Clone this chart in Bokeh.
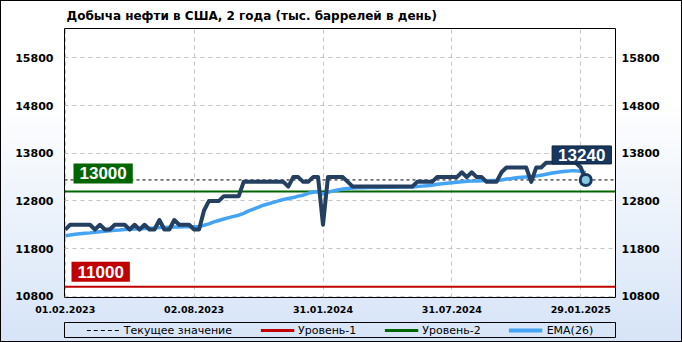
import pandas as pd
from bokeh.plotting import figure
from bokeh.layouts import column
from bokeh.models import (Range1d, LinearAxis, FixedTicker, DatetimeTickFormatter,
                          Span, Label, Legend, LegendItem)
from bokeh.embed import file_html
from bokeh.resources import INLINE

# ---------------- data ----------------
TITLE = "Добыча нефти  в США, 2 года (тыс. баррелей в день)"
start_date = "2023-02-01"

production = [
    12200, 12300, 12300, 12300, 12300, 12300, 12200, 12300, 12200, 12200,
    12300, 12300, 12300, 12200, 12300, 12200, 12300, 12200, 12200, 12400,
    12200, 12200, 12400, 12300, 12300, 12300, 12200, 12200, 12600, 12800,
    12800, 12800, 12900, 12900, 12900, 12900, 13200, 13200, 13200, 13200,
    13200, 13200, 13200, 13200, 13200, 13100, 13300, 13300, 13200, 13200,
    13300, 13300, 12300, 13300, 13300, 13300, 13300, 13200, 13100, 13100,
    13100, 13100, 13100, 13100, 13100, 13100, 13100, 13100, 13100, 13100,
    13100, 13200, 13200, 13200, 13200, 13300, 13300, 13300, 13300, 13300,
    13400, 13300, 13400, 13300, 13300, 13200, 13200, 13200, 13400, 13500,
    13500, 13500, 13500, 13500, 13200, 13500, 13500, 13600, 13600, 13600,
    13600, 13600, 13600, 13600, 13500, 13240,
]

ema26 = [
    12070, 12085, 12100, 12110, 12120, 12130, 12145, 12155, 12165, 12175,
    12185, 12190, 12200, 12205, 12210, 12215, 12220, 12225, 12230, 12240,
    12245, 12250, 12255, 12255, 12260, 12260, 12260, 12265, 12290, 12320,
    12360, 12390, 12420, 12450, 12475, 12500, 12540, 12590, 12630, 12670,
    12710, 12740, 12770, 12800, 12830, 12850, 12870, 12900, 12920, 12960,
    12980, 12990, 12940, 12980, 13010, 13030, 13050, 13060, 13070, 13075,
    13075, 13080, 13080, 13080, 13085, 13085, 13085, 13090, 13090, 13090,
    13090, 13100, 13110, 13120, 13130, 13150, 13160, 13170, 13180, 13190,
    13200, 13210, 13215, 13220, 13225, 13225, 13230, 13230, 13240, 13260,
    13270, 13285, 13295, 13300, 13300, 13320, 13340, 13360, 13380, 13395,
    13410, 13420, 13430, 13430, 13420, 13390,
]

current_value = 13240
level_1 = 11000
level_2 = 13000
y_ticks = [10800, 11800, 12800, 13800, 14800, 15800]
x_tick_dates = ["2023-02-01", "2023-08-02", "2024-01-31", "2024-07-31", "2025-01-29"]
legend_labels = ["Текущее значение", "Уровень-1", "Уровень-2", "EMA(26)"]

# ---------------- styles ----------------
C_MAIN = "#243f60"
C_EMA = "#45a3f4"
C_RED = "#c00000"
C_GREEN = "#006400"
C_NAVY = "#17375e"

dates = pd.date_range(start_date, periods=len(production), freq="7D")
x_ticks_ms = [pd.Timestamp(d).value // 10**6 for d in x_tick_dates]

x_start = (dates[0] - pd.Timedelta(days=1)).to_pydatetime()
x_end = (dates[0] + pd.Timedelta(days=777)).to_pydatetime()

# ---------------- main chart ----------------
p = figure(width=682, height=322, x_axis_type="datetime",
           x_range=Range1d(x_start, x_end), y_range=Range1d(10775, 16415),
           output_backend="svg", toolbar_location=None,
           min_border_left=64, min_border_right=67, min_border_top=28, min_border_bottom=25,
           border_fill_color=None, background_fill_color="white",
           outline_line_color="black", outline_line_width=1)

p.title.text = TITLE
p.title.text_font = "DejaVu Sans"
p.title.text_font_size = "12px"
p.title.text_font_style = "bold"
p.title.text_color = "black"
p.title.align = "left"
p.title.offset = 2
p.title.standoff = 11

fmt = "%d.%m.%Y"
p.xaxis.ticker = FixedTicker(ticks=x_ticks_ms)
p.xaxis.formatter = DatetimeTickFormatter(milliseconds=fmt, seconds=fmt, minsec=fmt, minutes=fmt,
                                          hourmin=fmt, hours=fmt, days=fmt, months=fmt, years=fmt)
p.yaxis.ticker = FixedTicker(ticks=y_ticks)
right_axis = LinearAxis(ticker=FixedTicker(ticks=y_ticks))
p.add_layout(right_axis, "right")

for ax in [p.xaxis[0], p.yaxis[0], right_axis]:
    ax.axis_line_color = None
    ax.major_tick_line_color = None
    ax.minor_tick_line_color = None
    ax.major_tick_out = 0
    ax.major_tick_in = 0
    ax.minor_tick_out = 0
    ax.major_label_text_font = "DejaVu Sans"
    ax.major_label_text_font_style = "bold"
    ax.major_label_text_color = "black"
p.yaxis[0].major_label_text_font_size = "11px"
right_axis.major_label_text_font_size = "11px"
p.yaxis[0].major_label_standoff = 11
right_axis.major_label_standoff = 6
p.xaxis[0].major_label_text_font_size = "9.5px"
p.xaxis[0].major_label_standoff = 8

p.xgrid.ticker = FixedTicker(ticks=x_ticks_ms)
p.ygrid.ticker = FixedTicker(ticks=y_ticks)
for g in [p.xgrid[0], p.ygrid[0]]:
    g.grid_line_color = "#c4c4c4"
    g.grid_line_dash = "4 4"
    g.grid_line_width = 1

p.add_layout(Span(location=current_value, dimension="width", line_color="black",
                  line_dash="3 3", line_width=1, level="underlay"))
p.add_layout(Span(location=level_1, dimension="width", line_color=C_RED,
                  line_width=2, level="underlay"))
p.add_layout(Span(location=level_2, dimension="width", line_color=C_GREEN,
                  line_width=2, level="underlay"))

p.line(dates, ema26, line_color=C_EMA, line_width=3.5)
p.line(dates, production, line_color=C_MAIN, line_width=4, line_join="round")
p.scatter([dates[-1]], [production[-1]], size=11, fill_color="#86c8e0",
          line_color=C_NAVY, line_width=3)


def make_label(vpad, **kw):
    base = dict(text_font="Liberation Sans", text_font_size="17px", text_font_style="bold",
                text_color="white")
    base.update(kw)
    for pad in (dict(left=6, right=6, top=vpad, bottom=vpad), 3):
        try:
            return Label(padding=pad, **base)
        except Exception:
            continue
    return Label(**base)


p.add_layout(make_label(4, x=x_start, y=level_2, text=f"{level_2}", x_offset=9, y_offset=8,
                        background_fill_color=C_GREEN))
p.add_layout(make_label(4, x=x_start, y=level_1, text=f"{level_1}", x_offset=7, y_offset=5,
                        background_fill_color=C_RED))
p.add_layout(make_label(3, x=dates[-1], y=current_value, text=f"{current_value}",
                        x_offset=-4, y_offset=25, text_align="center", text_baseline="middle",
                        background_fill_color=C_NAVY, border_line_color="#0d2238"))

# ---------------- legend strip ----------------
q = figure(width=682, height=20, x_range=Range1d(0, 1), y_range=Range1d(0, 1),
           output_backend="svg", toolbar_location=None,
           x_axis_location=None, y_axis_location=None,
           min_border_left=64, min_border_right=67, min_border_top=0, min_border_bottom=5,
           border_fill_color=None, background_fill_color=None,
           outline_line_color="black", outline_line_width=1)
q.grid.visible = False

nan = float("nan")
r_cur = q.line([nan], [nan], line_color="black", line_dash="4 3", line_width=1)
r_l1 = q.line([nan], [nan], line_color=C_RED, line_width=3)
r_l2 = q.line([nan], [nan], line_color=C_GREEN, line_width=3)
r_ema_leg = q.line([nan], [nan], line_color=C_EMA, line_width=4)

legend = Legend(items=[LegendItem(label=legend_labels[0], renderers=[r_cur]),
                       LegendItem(label=legend_labels[1], renderers=[r_l1]),
                       LegendItem(label=legend_labels[2], renderers=[r_l2]),
                       LegendItem(label=legend_labels[3], renderers=[r_ema_leg])],
                orientation="horizontal", location="center",
                label_text_font="DejaVu Sans", label_text_font_size="11px",
                label_text_color="black",
                glyph_width=34, glyph_height=13, label_height=13, label_standoff=4,
                spacing=28, padding=1, margin=0,
                border_line_color=None, background_fill_alpha=0)
q.add_layout(legend, "center")

layout = column(p, q, spacing=0, width=682, height=342)
layout.styles = {
    "background": "linear-gradient(to bottom, #ffffff 0%, #ffffff 30%, #d6e4f7 100%)",
    "box-shadow": "inset 0 0 0 1px #000000",
}

open("out.html", "w").write(file_html(layout, INLINE))
